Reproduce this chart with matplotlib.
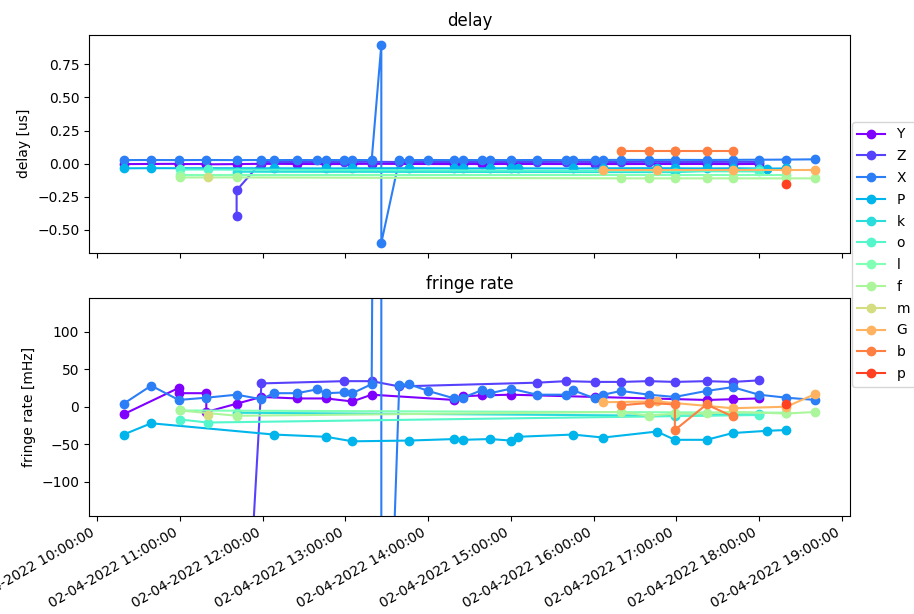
import datetime as dt
import matplotlib
matplotlib.use('Agg')
import matplotlib.pyplot as plt
import matplotlib.dates as mdates

day = '2022-04-02'
stations = ['Y', 'Z', 'X', 'P', 'k', 'o', 'l', 'f', 'm', 'G', 'b', 'p']

# scan times (HH:MM), delay [us] and fringe rate [mHz] per station
Y_t = ['10:19', '10:59', '10:59', '11:19', '11:19', '11:41', '11:59', '12:25', '12:46', '13:05',
       '13:19', '14:19', '14:25', '14:39', '15:00', '16:01', '17:22', '17:41', '18:00']
Y_delay = [-0.004, -0.002, -0.004, -0.003, -0.006, -0.004, -0.002, -0.003, -0.004, -0.003,
           -0.002, -0.004, -0.003, -0.004, -0.003, -0.004, -0.003, -0.004, -0.003]
Y_rate = [-10, 25, 18, 18, -7, 4, 13, 11, 11, 7, 16, 9, 14, 15, 16, 13, 9, 10, 11]

Z_t = ['11:41', '11:41', '11:59', '12:59', '13:19', '13:39', '15:19', '15:40', '16:01', '16:20',
       '16:40', '16:59', '17:22', '17:41', '18:00']
Z_delay = [-0.395, -0.203, 0.012, 0.012, 0.013, 0.012, 0.012, 0.013, 0.012, 0.012,
           0.013, 0.012, 0.012, 0.013, 0.012]
Z_rate = [-1100, -550, 31, 34, 34, 27, 32, 34, 33, 33, 34, 33, 34, 33, 35]

X_t = ['10:19', '10:39', '10:59', '11:19', '11:41', '11:59', '12:08', '12:25', '12:39', '12:46',
       '12:59', '13:05', '13:19', '13:26', '13:26', '13:39', '13:46', '14:00', '14:19', '14:25',
       '14:39', '14:45', '15:00', '15:19', '15:40', '15:45', '16:01', '16:07', '16:20', '16:40',
       '16:59', '17:22', '17:41', '18:00', '18:20', '18:41']
X_delay = [0.026, 0.027, 0.026, 0.027, 0.026, 0.027, 0.026, 0.027, 0.026, 0.027,
           0.026, 0.027, 0.026, 0.9, -0.6, 0.027, 0.026, 0.027, 0.026, 0.027,
           0.026, 0.027, 0.026, 0.027, 0.026, 0.027, 0.028, 0.027, 0.028, 0.027,
           0.028, 0.027, 0.028, 0.029, 0.03, 0.032]
X_rate = [4, 28, 9, 12, 16, 10, 18, 18, 23, 18,
          19, 18, 30, 2200, -670, 29, 30, 21, 11, 12,
          22, 18, 24, 16, 16, 22, 11, 16, 21, 16,
          13, 21, 26, 16, 12, 9]

P_t = ['10:19', '10:39', '12:08', '12:46', '13:05', '13:46', '14:19', '14:25', '14:45', '15:00',
       '15:05', '15:45', '16:07', '16:46', '16:59', '17:22', '17:41', '18:06', '18:20']
P_delay = [-0.036, -0.035, -0.036, -0.037, -0.036, -0.035, -0.036, -0.037, -0.036, -0.035,
           -0.036, -0.037, -0.036, -0.035, -0.036, -0.037, -0.036, -0.038, -0.037]
P_rate = [-37, -22, -37, -40, -46, -45, -43, -44, -43, -45,
          -40, -37, -41, -33, -44, -44, -35, -32, -31]

k_t = ['11:41', '16:59', '18:00']
k_delay = [-0.062, -0.065, -0.04]
k_rate = [-8, -12, -10]

o_t = ['11:00', '11:20', '18:00']
o_delay = [-0.045, -0.045, -0.06]
o_rate = [-17, -21, -11]

l_t = ['11:00', '18:20']
l_delay = [-0.09, -0.09]
l_rate = [-5, -8]

f_t = ['11:00', '11:41', '16:20', '16:40', '16:59', '17:22', '17:41', '18:20', '18:41']
f_delay = [-0.105, -0.105, -0.112, -0.112, -0.112, -0.112, -0.112, -0.112, -0.112]
f_rate = [-5, -12, -7, -12, -9, -9, -7, -9, -7]

m_t = ['11:20']
m_delay = [-0.105]
m_rate = [-11]

G_t = ['16:07', '16:46', '17:41', '18:20', '18:41']
G_delay = [-0.049, -0.049, -0.049, -0.049, -0.049]
G_rate = [6, 7, -2, 0, 17]

b_t = ['16:20', '16:40', '16:59', '16:59', '17:22', '17:41']
b_delay = [0.095, 0.095, 0.095, 0.095, 0.095, 0.095]
b_rate = [2, 5, 3, -31, 3, -13]

p_t = ['18:20']
p_delay = [-0.157]
p_rate = [4]

data = {
    'Y': (Y_t, Y_delay, Y_rate), 'Z': (Z_t, Z_delay, Z_rate), 'X': (X_t, X_delay, X_rate),
    'P': (P_t, P_delay, P_rate), 'k': (k_t, k_delay, k_rate), 'o': (o_t, o_delay, o_rate),
    'l': (l_t, l_delay, l_rate), 'f': (f_t, f_delay, f_rate), 'm': (m_t, m_delay, m_rate),
    'G': (G_t, G_delay, G_rate), 'b': (b_t, b_delay, b_rate), 'p': (p_t, p_delay, p_rate),
}


def to_datetime(hhmm):
    return dt.datetime.strptime(day + ' ' + hhmm, '%Y-%m-%d %H:%M')


fig, (ax1, ax2) = plt.subplots(2, 1, sharex=True, figsize=(9.14, 6.14), dpi=100)

for i, name in enumerate(stations):
    times, delay, rate = data[name]
    t = [to_datetime(s) for s in times]
    color = plt.cm.rainbow(i / 12)
    ax1.plot(t, delay, 'o-', color=color, label=name)
    ax2.plot(t, rate, 'o-', color=color, label=name)

ax1.set_title('delay')
ax1.set_ylabel('delay [us]')
ax2.set_title('fringe rate')
ax2.set_ylabel('fringe rate [mHz]')
ax2.set_ylim(-145, 145)

ax2.xaxis.set_major_locator(mdates.HourLocator())
ax2.xaxis.set_major_formatter(mdates.DateFormatter('%d-%m-%Y %H:%M:%S'))
fig.autofmt_xdate()

fig.subplots_adjust(left=0.0974, right=0.930, top=0.9435, bottom=0.16, hspace=0.206)

handles, labels = ax1.get_legend_handles_labels()
fig.legend(handles, labels, loc='center left', bbox_to_anchor=(0.932, 0.586),
           borderaxespad=0, labelspacing=0.56)

fig.savefig('out.png', dpi=100)
